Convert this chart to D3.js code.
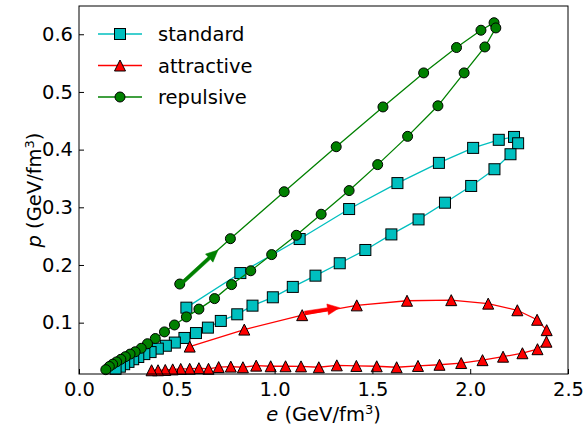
<!DOCTYPE html>
<html>
<head>
<meta charset="UTF-8">
<title>p vs e</title>
<script src="https://cdn.jsdelivr.net/npm/d3@7"></script>
<style>
  body { margin: 0; background: #fff; }
  text { font-family: "DejaVu Sans", sans-serif; fill: #000; }
  .line { fill: none; stroke-width: 1.3; }
</style>
</head>
<body>
<div id="graphe"></div>
<script>
// energy density e and pressure p, in path order
var stdE = [0.549, 0.825, 1.128, 1.381, 1.628, 1.840, 2.015, 2.146, 2.224, 2.245, 2.206, 2.124, 2.005, 1.871, 1.736, 1.597, 1.464, 1.333, 1.209, 1.093, 0.991, 0.887, 0.809, 0.725, 0.659, 0.598, 0.539, 0.490, 0.444, 0.403, 0.366, 0.334, 0.303, 0.277, 0.253, 0.231, 0.209, 0.187];
var stdP = [0.126, 0.186, 0.245, 0.297, 0.342, 0.377, 0.403, 0.417, 0.422, 0.411, 0.392, 0.366, 0.337, 0.308, 0.279, 0.253, 0.226, 0.203, 0.1815, 0.162, 0.144, 0.1295, 0.1145, 0.103, 0.0914, 0.082, 0.0735, 0.0655, 0.060, 0.055, 0.049, 0.0455, 0.0405, 0.0366, 0.032, 0.028, 0.0237, 0.020];

var attE = [0.566, 0.845, 1.141, 1.420, 1.677, 1.903, 2.092, 2.241, 2.342, 2.391, 2.390, 2.344, 2.267, 2.168, 2.063, 1.954, 1.843, 1.733, 1.624, 1.522, 1.418, 1.318, 1.226, 1.135, 1.056, 0.980, 0.906, 0.838, 0.776, 0.714, 0.662, 0.613, 0.566, 0.520, 0.479, 0.441, 0.404, 0.371];
var attP = [0.0585, 0.088, 0.113, 0.130, 0.138, 0.139, 0.133, 0.1215, 0.105, 0.087, 0.067, 0.054, 0.047, 0.041, 0.035, 0.030, 0.027, 0.025, 0.0227, 0.0244, 0.025, 0.026, 0.0227, 0.0242, 0.0244, 0.0244, 0.0255, 0.0227, 0.0238, 0.023, 0.020, 0.021, 0.020, 0.0198, 0.019, 0.018, 0.0175, 0.0175];

var repE = [0.515, 0.774, 1.049, 1.315, 1.554, 1.762, 1.930, 2.055, 2.122, 2.131, 2.075, 1.969, 1.835, 1.680, 1.527, 1.381, 1.238, 1.111, 0.985, 0.878, 0.780, 0.693, 0.613, 0.549, 0.488, 0.437, 0.390, 0.350, 0.318, 0.287, 0.261, 0.237, 0.214, 0.192, 0.172, 0.155, 0.137];
var repP = [0.167, 0.2456, 0.327, 0.405, 0.474, 0.533, 0.577, 0.607, 0.620, 0.611, 0.578, 0.533, 0.476, 0.423, 0.374, 0.329, 0.288, 0.2515, 0.218, 0.190, 0.166, 0.1417, 0.1235, 0.110, 0.096, 0.084, 0.0725, 0.0635, 0.0556, 0.0495, 0.0455, 0.041, 0.0365, 0.032, 0.028, 0.024, 0.0185];

// direction arrows [e0, p0, e1, p1]
var arrowRep = [0.531, 0.170, 0.711, 0.226];
var arrowAtt = [1.153, 0.117, 1.332, 0.126];

var xTicks = [0, 0.5, 1.0, 1.5, 2.0, 2.5];
var yTicks = [0.1, 0.2, 0.3, 0.4, 0.5, 0.6];

var width = 584, height = 429;
var margin = {top: 6, right: 16, bottom: 55, left: 79};

var svg = d3.select("#graphe").append("svg")
  .attr("width", width)
  .attr("height", height);

var x = d3.scaleLinear().domain([0, 2.5]).range([margin.left, width - margin.right]);
var y = d3.scaleLinear().domain([0.011, 0.649]).range([height - margin.bottom, margin.top]);

var series = [
  {name: "standard", e: stdE, p: stdP, color: "#00bfbf", marker: "square"},
  {name: "attractive", e: attE, p: attP, color: "#ff0000", marker: "triangle"},
  {name: "repulsive", e: repE, p: repP, color: "#008000", marker: "circle"}
];

function drawMarker(g, type, cx, cy, color) {
  if (type === "square") {
    g.append("rect").attr("x", cx - 5.5).attr("y", cy - 5.5)
      .attr("width", 11).attr("height", 11)
      .attr("fill", color).attr("stroke", "#000").attr("stroke-width", 1);
  } else if (type === "circle") {
    g.append("circle").attr("cx", cx).attr("cy", cy).attr("r", 5)
      .attr("fill", color).attr("stroke", "#000").attr("stroke-width", 1);
  } else {
    g.append("path")
      .attr("d", "M" + cx + "," + (cy - 5.5) + "L" + (cx - 5.5) + "," + (cy + 5.5) + "L" + (cx + 5.5) + "," + (cy + 5.5) + "Z")
      .attr("fill", color).attr("stroke", "#000").attr("stroke-width", 1).attr("stroke-linejoin", "miter");
  }
}

var line = d3.line().x(function(d) { return x(d[0]); }).y(function(d) { return y(d[1]); });

var plot = svg.append("g");

series.forEach(function(s) {
  var pts = s.e.map(function(v, i) { return [v, s.p[i]]; });
  plot.append("path").attr("class", "line")
    .attr("d", line(pts)).attr("stroke", s.color);
  var mg = plot.append("g");
  pts.forEach(function(d) { drawMarker(mg, s.marker, x(d[0]), y(d[1]), s.color); });
});

function drawArrow(a, color) {
  var x0 = x(a[0]), y0 = y(a[1]), x1 = x(a[2]), y1 = y(a[3]);
  var dx = x1 - x0, dy = y1 - y0, len = Math.sqrt(dx * dx + dy * dy);
  var ux = dx / len, uy = dy / len, nx = -uy, ny = ux;
  var hl = 12, hw = 5.5, sw = 1.7;
  var bx = x1 - ux * hl, by = y1 - uy * hl;
  var pts = [
    [x0 + nx * sw, y0 + ny * sw], [bx + nx * sw, by + ny * sw], [bx + nx * hw, by + ny * hw],
    [x1, y1],
    [bx - nx * hw, by - ny * hw], [bx - nx * sw, by - ny * sw], [x0 - nx * sw, y0 - ny * sw]
  ];
  plot.append("path").attr("d", "M" + pts.join("L") + "Z").attr("fill", color).attr("stroke", color).attr("stroke-width", 0.5);
}
drawArrow(arrowRep, "#008000");
drawArrow(arrowAtt, "#ff0000");

// axes, ticks pointing in
var xAxis = d3.axisBottom(x).tickValues(xTicks).tickFormat(d3.format(".1f"))
  .tickSizeInner(-5).tickSizeOuter(0).tickPadding(8);
var yAxis = d3.axisLeft(y).tickValues(yTicks).tickFormat(d3.format(".1f"))
  .tickSizeInner(-5).tickSizeOuter(0).tickPadding(6);

var gx = svg.append("g").attr("transform", "translate(0," + (height - margin.bottom) + ")").call(xAxis);
var gy = svg.append("g").attr("transform", "translate(" + margin.left + ",0)").call(yAxis);
[gx, gy].forEach(function(g) {
  g.select(".domain").remove();
  g.selectAll("text").style("font-family", "DejaVu Sans").style("font-size", "19.5px").attr("fill", "#000");
  g.selectAll("line").attr("stroke", "#000");
});

svg.append("rect")
  .attr("x", margin.left).attr("y", margin.top)
  .attr("width", width - margin.left - margin.right)
  .attr("height", height - margin.top - margin.bottom)
  .attr("fill", "none").attr("stroke", "#000").attr("stroke-width", 1);

// axis labels
var xl = svg.append("text").attr("x", (margin.left + width - margin.right) / 2).attr("y", 421)
  .attr("text-anchor", "middle").style("font-size", "19.5px");
xl.append("tspan").style("font-style", "italic").text("e");
xl.append("tspan").text(" (GeV/fm");
xl.append("tspan").attr("dy", -7).style("font-size", "13px").text("3");
xl.append("tspan").attr("dy", 7).text(")");

var yl = svg.append("text")
  .attr("transform", "translate(41," + ((margin.top + height - margin.bottom) / 2) + ") rotate(-90)")
  .attr("text-anchor", "middle").style("font-size", "19.5px");
yl.append("tspan").style("font-style", "italic").text("p");
yl.append("tspan").text(" (GeV/fm");
yl.append("tspan").attr("dy", -7).style("font-size", "13px").text("3");
yl.append("tspan").attr("dy", 7).text(")");

// legend
var legend = svg.append("g");
series.forEach(function(s, i) {
  var ly = 34 + i * 31.5;
  legend.append("line").attr("x1", 98).attr("x2", 142).attr("y1", ly).attr("y2", ly)
    .attr("stroke", s.color).attr("stroke-width", 1.3);
  drawMarker(legend, s.marker, 120, ly, s.color);
  legend.append("text").attr("x", 158).attr("y", ly + 7).style("font-size", "19.5px").text(s.name);
});
</script>
</body>
</html>
